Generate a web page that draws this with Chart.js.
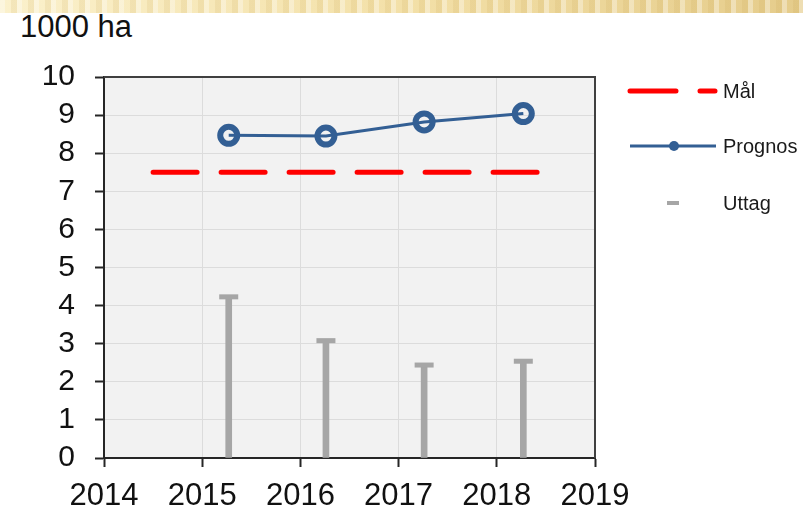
<!DOCTYPE html>
<html>
<head>
<meta charset="utf-8">
<script src="https://cdn.jsdelivr.net/npm/chart.js@4/dist/chart.umd.min.js"></script>
<style>
html, body { margin:0; padding:0; background:#ffffff; }
#wrap { position:relative; width:803px; height:509px; overflow:hidden; }
.banner {
    position:absolute; left:0; top:0; width:803px; height:13px;
    background:
        repeating-linear-gradient(90deg, rgba(255,255,255,0.35) 0 5px, rgba(255,255,255,0) 5px 11px, rgba(190,150,60,0.12) 11px 17px),
        linear-gradient(90deg, #fbf1cc, #f3e0a8 50%, #e5cc8b);
}
.unit {
    position:absolute; left:20px; top:12px;
    font-family:"Liberation Sans", Arial, sans-serif; font-size:31px; line-height:30px;
    color:#111111;
}
canvas { position:absolute; left:0; top:0; }
</style>
</head>
<body>
<div id="wrap">
    <div class="banner"></div>
    <div class="unit">1000 ha</div>
    <canvas id="chart" width="803" height="509"></canvas>
</div>

<script>
// ============================================
// Data
// ============================================

const years = [2015.27, 2016.26, 2017.26, 2018.27];

const prognos = [8.47, 8.45, 8.82, 9.04];

const uttag = [4.23, 3.08, 2.44, 2.54];

const malYears = [2014.5, 2018.5];

const malValues = [7.5, 7.5];

const seriesNames = ["Mål", "Prognos", "Uttag"];

const xRange = [2014, 2019];

const yRange = [0, 10];


const points = (xs, ys) => xs.map((x, i) => ({ x: x, y: ys[i] }));


const FONT = "'Liberation Sans', Arial, sans-serif";

const BLUE = "#335f94";
const RED = "#ff0000";
const GREY = "#a6a6a6";


// ============================================
// Plot background and frame
// ============================================

const plotFrame = {

    id: "plotFrame",

    beforeDraw(chart) {
        const a = chart.chartArea;
        const ctx = chart.ctx;
        ctx.save();
        ctx.fillStyle = "#f2f2f2";
        ctx.fillRect(a.left, a.top, a.right - a.left, a.bottom - a.top);
        ctx.restore();
    },

    afterDraw(chart) {
        const a = chart.chartArea;
        const ctx = chart.ctx;
        ctx.save();
        ctx.strokeStyle = "#404040";
        ctx.lineWidth = 2;
        ctx.beginPath();
        ctx.moveTo(a.left, a.top);
        ctx.lineTo(a.right, a.top);
        ctx.lineTo(a.right, a.bottom);
        ctx.stroke();
        ctx.restore();
    }

};


// ============================================
// Legend on the right
// ============================================

const sideLegend = {

    id: "sideLegend",

    afterDraw(chart) {
        const ctx = chart.ctx;
        const textX = 723;
        const rows = [91, 146, 203];

        ctx.save();
        ctx.lineCap = "round";

        // Mål
        ctx.strokeStyle = RED;
        ctx.lineWidth = 5;
        ctx.setLineDash([46, 24]);
        ctx.beginPath();
        ctx.moveTo(630, rows[0]);
        ctx.lineTo(715, rows[0]);
        ctx.stroke();
        ctx.setLineDash([]);

        // Prognos
        ctx.lineCap = "butt";
        ctx.strokeStyle = BLUE;
        ctx.lineWidth = 3;
        ctx.beginPath();
        ctx.moveTo(630, rows[1]);
        ctx.lineTo(716, rows[1]);
        ctx.stroke();
        ctx.fillStyle = BLUE;
        ctx.beginPath();
        ctx.arc(674, rows[1], 5, 0, Math.PI * 2);
        ctx.fill();

        // Uttag
        ctx.strokeStyle = GREY;
        ctx.lineWidth = 4;
        ctx.beginPath();
        ctx.moveTo(667, rows[2]);
        ctx.lineTo(679, rows[2]);
        ctx.stroke();

        ctx.fillStyle = "#1a1a1a";
        ctx.font = "20px " + FONT;
        ctx.textBaseline = "middle";
        ctx.textAlign = "left";
        seriesNames.forEach((name, i) => ctx.fillText(name, textX, rows[i] + 1));

        ctx.restore();
    }

};


// ============================================
// Chart
// ============================================

new Chart(document.getElementById("chart"), {

    type: "line",

    data: {

        datasets: [

            {
                label: seriesNames[0],
                data: points(malYears, malValues),
                borderColor: RED,
                borderWidth: 5,
                borderDash: [44, 24],
                borderCapStyle: "round",
                pointRadius: 0,
                order: 2
            },

            {
                label: seriesNames[1],
                data: points(years, prognos),
                borderColor: BLUE,
                borderWidth: 3,
                pointRadius: 8.5,
                pointBorderWidth: 6,
                pointBorderColor: BLUE,
                pointBackgroundColor: "rgba(0,0,0,0)",
                tension: 0,
                order: 1
            },

            {
                type: "bar",
                label: seriesNames[2],
                data: points(years, uttag),
                backgroundColor: GREY,
                barThickness: 6,
                order: 4
            },

            {
                label: seriesNames[2] + " cap",
                data: points(years, uttag),
                showLine: false,
                pointStyle: "line",
                pointRadius: 9.5,
                pointBorderWidth: 5,
                pointBorderColor: GREY,
                order: 3
            }

        ]

    },

    options: {

        responsive: false,
        animation: false,

        layout: {
            padding: { left: 0, top: 77, right: 208, bottom: 0 }
        },

        plugins: {
            legend: { display: false },
            tooltip: { enabled: false }
        },

        scales: {

            x: {
                type: "linear",
                offset: false,
                min: xRange[0],
                max: xRange[1],
                afterFit: s => { s.height = 51; },
                ticks: {
                    stepSize: 1,
                    autoSkip: false,
                    maxRotation: 0,
                    padding: 11,
                    color: "#111111",
                    font: { family: FONT, size: 31 },
                    callback: v => String(v)
                },
                grid: {
                    offset: false,
                    color: "#dcdcdc",
                    lineWidth: 1,
                    tickColor: "#262626",
                    tickLength: 9,
                    tickWidth: 2
                },
                border: { color: "#262626", width: 2 }
            },

            y: {
                min: yRange[0],
                max: yRange[1],
                afterFit: s => { s.width = 104; },
                ticks: {
                    stepSize: 1,
                    autoSkip: false,
                    padding: 20,
                    color: "#111111",
                    font: { family: FONT, size: 30 }
                },
                grid: {
                    color: "#dcdcdc",
                    lineWidth: 1,
                    tickColor: "#262626",
                    tickLength: 9,
                    tickWidth: 2
                },
                border: { color: "#262626", width: 2 }
            }

        }

    },

    plugins: [plotFrame, sideLegend]

});
</script>
</body>
</html>
